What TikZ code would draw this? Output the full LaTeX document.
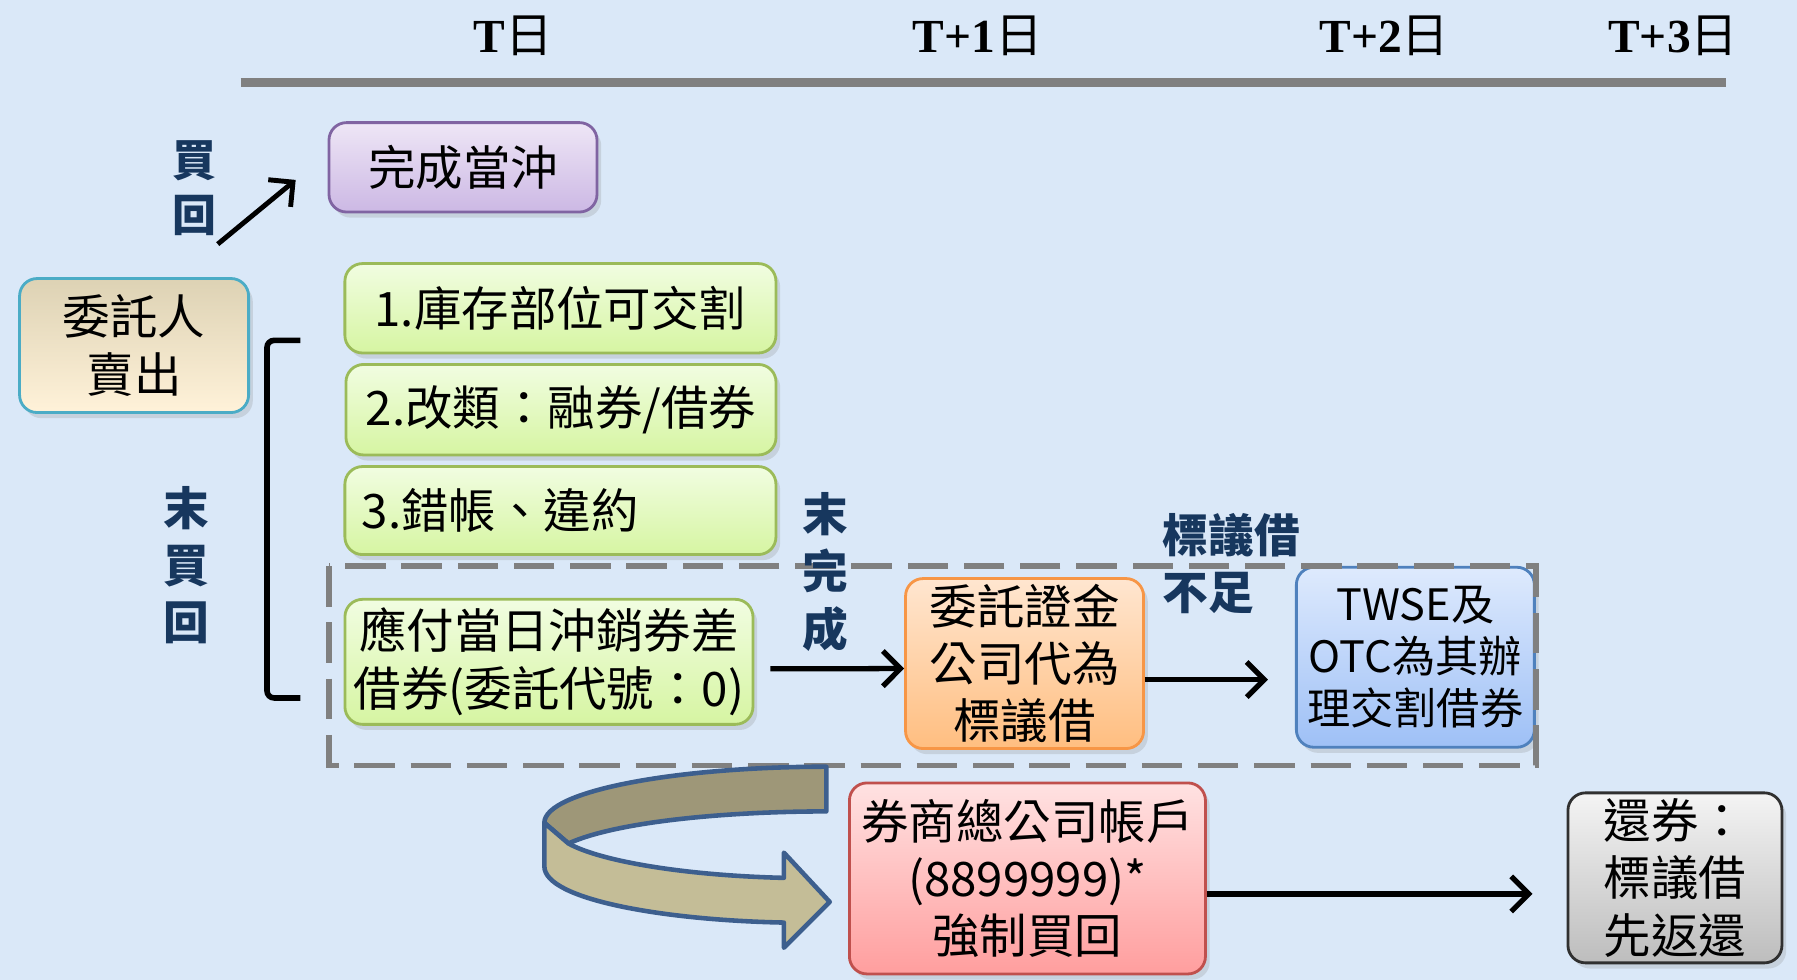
\documentclass[tikz,border=0pt]{standalone}
\usepackage{fontspec}
\newfontfamily\cjk{Noto Sans CJK TC}
\newfontfamily\hdrfont{Liberation Serif}
\usetikzlibrary{arrows.meta,shadows}
\definecolor{bg}{RGB}{218,232,248}
\definecolor{navy}{RGB}{23,55,94}
\definecolor{bandd}{RGB}{158,151,120}
\definecolor{bandl}{RGB}{196,189,151}
\definecolor{bandline}{RGB}{61,95,142}
\tikzset{
  box/.style={rounded corners=5pt, line width=0.8pt, align=center, inner sep=0pt,
    font=\cjk\fontsize{13.5}{16.3}\selectfont,
    drop shadow={shadow xshift=1.2pt, shadow yshift=-1.6pt, opacity=0.22}},
  purplebox/.style={box, draw={rgb,255:red,128;green,100;blue,162}, top color={rgb,255:red,238;green,230;blue,246}, bottom color={rgb,255:red,204;green,184;blue,228}},
  tanbox/.style={box, draw={rgb,255:red,75;green,172;blue,198}, top color={rgb,255:red,221;green,210;blue,180}, bottom color={rgb,255:red,255;green,242;blue,217}},
  greenbox/.style={box, draw={rgb,255:red,155;green,187;blue,89}, top color={rgb,255:red,241;green,253;blue,225}, bottom color={rgb,255:red,214;green,245;blue,162}},
  orangebox/.style={box, draw={rgb,255:red,247;green,150;blue,70}, top color={rgb,255:red,255;green,230;blue,208}, bottom color={rgb,255:red,255;green,190;blue,128}},
  bluebox/.style={box, draw={rgb,255:red,79;green,129;blue,189}, top color={rgb,255:red,222;green,234;blue,253}, bottom color={rgb,255:red,158;green,192;blue,246}},
  redbox/.style={box, draw={rgb,255:red,192;green,80;blue,77}, top color={rgb,255:red,255;green,226;blue,226}, bottom color={rgb,255:red,255;green,158;blue,158}},
  graybox/.style={box, draw={rgb,255:red,48;green,48;blue,48}, top color={rgb,255:red,244;green,244;blue,244}, bottom color={rgb,255:red,189;green,189;blue,189}},
  lbl/.style={text=navy, align=center, inner sep=0pt, font=\cjk\bfseries\fontsize{13}{16.3}\selectfont},
  hdr/.style={inner sep=0pt, font=\hdrfont\bfseries\fontsize{13.5}{16}\selectfont},
  arr/.style={line width=1.5pt, -{Straight Barb[length=5pt,width=10pt]}},
}
\begin{document}
\begin{tikzpicture}[x=0.01146cm,y=-0.01146cm]
\fill[bg] (0,0) rectangle (1568,855);
\useasboundingbox (0,0) rectangle (1568,855);
% timeline
\draw[line width=2.6pt, draw={rgb,255:red,128;green,128;blue,128}] (210,72) -- (1506,72);
\node[hdr] (h0) at (448,31) {T{\cjk\mdseries 日}};
\node[hdr] (h1) at (853,31) {T+1{\cjk\mdseries 日}};
\node[hdr] (h2) at (1208,31) {T+2{\cjk\mdseries 日}};
\node[hdr] (h3) at (1460,31) {T+3{\cjk\mdseries 日}};
% boxes
\node[purplebox, minimum width=2.68cm, minimum height=0.894cm] (done) at (404,146) {完成當沖};
\node[tanbox, minimum width=2.29cm, minimum height=1.34cm] (seller) at (117,301.5) {委託人\\賣出};
\node[greenbox, minimum width=4.31cm, minimum height=0.894cm] (g1) at (489,269) {1.庫存部位可交割};
\node[greenbox, minimum width=4.30cm, minimum height=0.905cm] (g2) at (489.5,357.5) {2.改類：融券/借券};
\node[greenbox, minimum width=4.31cm, minimum height=0.88cm, text width=3.97cm, align=left] (g3) at (489,445.5) {3.錯帳、違約};
\node[greenbox, minimum width=4.08cm, minimum height=1.25cm] (g4) at (479,577.5) {應付當日沖銷券差\\借券(委託代號：0)};
\node[orangebox, minimum width=2.38cm, minimum height=1.70cm] (lend) at (894,579) {委託證金\\公司代為\\標議借};
\node[bluebox, minimum width=2.38cm, minimum height=1.80cm, font=\cjk\fontsize{12.3}{14.8}\selectfont] (twse) at (1235,573.5) {TWSE及\\OTC為其辦\\理交割借券};
\node[redbox, minimum width=3.56cm, minimum height=1.91cm] (force) at (896.5,766.5) {券商總公司帳戶\\(8899999)*\\強制買回};
\node[graybox, minimum width=2.14cm, minimum height=1.70cm] (ret) at (1461.5,766) {還券：\\標議借\\先返還};
% dashed frame
\draw[line width=1.6pt, draw={rgb,255:red,128;green,128;blue,128}, dash pattern=on 11.5pt off 4.5pt] (287,494) rectangle (1340,668);
% curved U-turn arrow
\filldraw[fill=bandd, draw=bandline, line width=1.3pt, line join=round]
  (721,669) .. controls (591,669) and (475,690) .. (475,718) -- (496,736)
  .. controls (540,716) and (640,708) .. (721,708) -- cycle;
\filldraw[fill=bandl, draw=bandline, line width=1.3pt, line join=round]
  (475,718) -- (475,756) .. controls (475,785) and (580,803) .. (684,805)
  -- (684,827) -- (724,787) -- (684,744) -- (684,766)
  .. controls (600,764) and (525,752) .. (496,736) -- cycle;
% bracket
\draw[line width=1.6pt, rounded corners=2pt] (262,297) -- (233,297) -- (233,609) -- (262,609);
% arrows
\coordinate (ba) at (190,213);
\coordinate (bb) at (258,157);
\draw[arr, line width=1.4pt] (ba) -- (bb);
\draw[arr] ([xshift=0.16cm,yshift=-0.07cm]g4.east) -- ([yshift=-0.05cm]lend.west);
\draw[arr, shorten >=0.27cm] ([yshift=-0.16cm]lend.east) -- ([yshift=-0.16cm]lend.east -| twse.west);
\draw[arr, shorten >=0.34cm] ([yshift=-0.155cm]force.east) -- ([yshift=-0.155cm]force.east -| ret.west);
% labels
\node[lbl, font=\cjk\bfseries\fontsize{12.5}{15.6}\selectfont] (lb1) at (170,164) {買\\回};
\node[lbl] (lb2) at (163,493) {末\\買\\回};
\node[lbl] (lb3) at (720,499) {末\\完\\成};
\node[lbl, align=left, anchor=west] (lb4) at (1014,492) {標議借\\不足};
\end{tikzpicture}
\end{document}
